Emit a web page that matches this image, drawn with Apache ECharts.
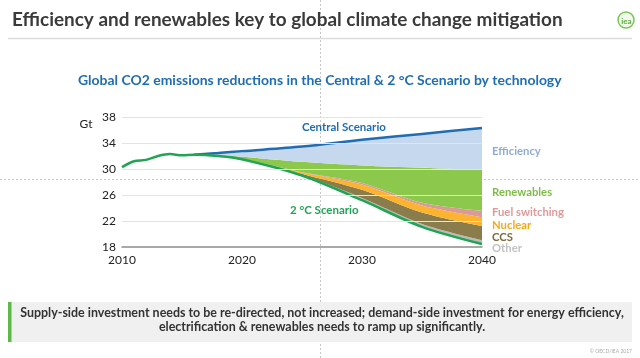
<!DOCTYPE html>
<html><head><meta charset="utf-8">
<script src="https://cdn.jsdelivr.net/npm/echarts@6/dist/echarts.min.js"></script>
<style>html,body{margin:0;padding:0;background:#fff}#c{width:640px;height:358px}</style>
</head><body><div id="c"></div><script>
// ---- data ----
const histYears = [2010, 2011, 2012, 2013, 2014, 2015, 2016];
const histValues = [30.3, 31.2, 31.4, 32.0, 32.3, 32.1, 32.2];
const projYears = [2016, 2018, 2020, 2025, 2030, 2035, 2040];
const centralScenario = [32.2, 32.45, 32.75, 33.45, 34.5, 35.4, 36.3];
const twoDegScenario = [32.2, 32.0, 31.5, 29.0, 25.2, 21.1, 18.45];
const other = [0, 0, 0.02, 0.08, 0.35, 0.45, 0.6];
const ccs = [0, 0.01, 0.03, 0.17, 1.25, 1.75, 2.15];
const nuclear = [0, 0.02, 0.05, 0.2, 0.8, 1.1, 1.4];
const fuelSwitching = [0, 0, 0, 0.05, 0.25, 0.4, 0.95];
const renewables = [0, 0.1, 0.3, 1.6, 2.7, 5.4, 6.3];
const efficiency = [0, 0.32, 0.85, 2.35, 3.95, 5.2, 6.45];
const yTicks = [18, 22, 26, 30, 34, 38];
const xTicks = [2010, 2020, 2030, 2040];
const wedgeNames = ['Other', 'CCS', 'Nuclear', 'Fuel switching', 'Renewables', 'Efficiency'];

// ---- helpers ----
const cv = document.createElement('canvas').getContext('2d');
function fit(txt, weight, family, w) {
  cv.font = weight + ' 100px ' + family;
  return 100 * w / cv.measureText(txt).width;
}
const T = y => Date.UTC(y, 0, 1);
const pairs = (xs, ys) => xs.map((x, i) => [T(x), ys[i]]);

const wedgeData = [other, ccs, nuclear, fuelSwitching, renewables, efficiency];
const wedgeColors = ['#b9bcb8', '#8b7c4c', '#fbb330', '#d99a98', '#8cc84c', '#c6d8ee'];
const labelColors = ['#c2c2c2', '#7b6a3c', '#f5a81c', '#de9a9a', '#7fbd48', '#90acd6'];
const labelY = [248.5, 237.5, 225, 212.5, 192, 151];

const F = '"Lato", "Open Sans", sans-serif';
const titleTxt = 'Efficiency and renewables key to global climate change mitigation';
const subTxt = 'Global CO2 emissions reductions in the Central & 2 °C Scenario by technology';
const line1 = 'Supply-side investment needs to be re-directed, not increased; demand-side investment for energy efficiency,';
const line2 = 'electrification & renewables needs to ramp up significantly.';
const titleSize = fit(titleTxt, 700, F, 551);
const subSize = fit(subTxt, 700, F, 484);
const boxSize = fit(line1, 700, F, 604);
const rightSize = fit('Fuel switching', 700, F, 72);
const cenSize = fit('Central Scenario', 700, F, 84);
const SM = 0.3;

const series = [];
series.push({
  type: 'line', stack: 'w', data: pairs(projYears, twoDegScenario), symbol: 'none',
  lineStyle: { width: 0, opacity: 0 }, smooth: SM, silent: true,
  markLine: {
    silent: true, symbol: 'none', label: { show: false },
    lineStyle: { color: '#e4e4e4', width: 1, type: 'solid' },
    data: yTicks.slice(1).map(v => ({ yAxis: v }))
  }, z: 1
});
wedgeData.forEach((d, i) => {
  series.push({
    name: wedgeNames[i], type: 'line', stack: 'w', data: pairs(projYears, d), symbol: 'none',
    smooth: SM, lineStyle: { width: 0 },
    areaStyle: { color: wedgeColors[i], opacity: 1 }, z: 2
  });
});
series.push({
  name: 'Central Scenario', type: 'line', data: pairs(projYears, centralScenario), symbol: 'none',
  smooth: SM, lineStyle: { color: '#1f6db4', width: 2.5 }, z: 3
});
series.push({
  name: '2 °C Scenario', type: 'line',
  data: pairs(histYears, histValues).concat(pairs(projYears.slice(1), twoDegScenario.slice(1))),
  symbol: 'none', smooth: SM, lineStyle: { color: '#22a455', width: 2.5 }, z: 4
});

const graphic = [
  { type: 'line', shape: { x1: 320.5, y1: 0, x2: 320.5, y2: 358 }, style: { stroke: '#c8c8c8', lineWidth: 1, lineDash: [2, 2] }, z: -1 },
  { type: 'line', shape: { x1: 0, y1: 179.5, x2: 640, y2: 179.5 }, style: { stroke: '#c8c8c8', lineWidth: 1, lineDash: [2, 2] }, z: -1 },
  { type: 'text', style: { text: titleTxt, x: 12, y: 20, font: `700 ${titleSize}px ${F}`, fill: '#3a3a3a', textVerticalAlign: 'middle' } },
  { type: 'line', shape: { x1: 8, y1: 38.5, x2: 632, y2: 38.5 }, style: { stroke: '#dcdcdc', lineWidth: 1.5 } },
  { type: 'circle', shape: { cx: 626, cy: 20, r: 8 }, style: { fill: '#f2f8ee', stroke: '#7cc45a', lineWidth: 1.5 } },
  { type: 'text', style: { text: 'iea', x: 626.5, y: 21, font: `700 8px ${F}`, fill: '#5aae3a', textAlign: 'center', textVerticalAlign: 'middle' } },
  { type: 'text', style: { text: subTxt, x: 78, y: 80, font: `700 ${subSize}px ${F}`, fill: '#1f6db4', textVerticalAlign: 'middle' } },
  { type: 'text', style: { text: 'Gt', x: 86, y: 124, font: `400 12px ${F}`, fill: '#222', textAlign: 'center', textVerticalAlign: 'middle' } },
  { type: 'text', style: { text: 'Central Scenario', x: 302, y: 127.5, font: `700 ${cenSize}px ${F}`, fill: '#1f6db4', textVerticalAlign: 'middle' }, z: 10 },
  { type: 'text', style: { text: '2 °C Scenario', x: 290, y: 210, font: `700 ${cenSize}px ${F}`, fill: '#22a455', textVerticalAlign: 'middle' }, z: 10 },
  { type: 'rect', shape: { x: 8, y: 302, width: 624, height: 40 }, style: { fill: '#f0f0f0' } },
  { type: 'rect', shape: { x: 8, y: 302, width: 3.5, height: 40 }, style: { fill: '#5cb848' } },
  { type: 'text', style: { text: line1, x: 322, y: 313, font: `700 ${boxSize}px ${F}`, fill: '#333', textAlign: 'center', textVerticalAlign: 'middle' } },
  { type: 'text', style: { text: line2, x: 322, y: 327, font: `700 ${boxSize}px ${F}`, fill: '#333', textAlign: 'center', textVerticalAlign: 'middle' } },
  { type: 'text', style: { text: '© OECD/IEA 2017', x: 632, y: 351, font: `400 5px ${F}`, fill: '#aaa', textAlign: 'right', textVerticalAlign: 'middle' } }
];
wedgeNames.forEach((n, i) => {
  graphic.push({ type: 'text', style: { text: n, x: 492, y: labelY[i], font: `700 ${rightSize}px ${F}`, fill: labelColors[i], textVerticalAlign: 'middle' } });
});

const chart = echarts.init(document.getElementById('c'), null, { renderer: 'canvas' });
chart.setOption({
  animation: false,
  backgroundColor: '#fff',
  grid: { left: 122, right: 158, top: 117, bottom: 111, containLabel: false },
  xAxis: [{
    type: 'time', min: T(2010), max: T(2040), show: false
  }, {
    type: 'value', min: 2010, max: 2040, interval: 10, position: 'bottom',
    axisLine: { show: true, onZero: false, lineStyle: { color: '#8c8c8c', width: 1.5 } },
    axisTick: { show: false }, splitLine: { show: false },
    axisLabel: { formatter: v => String(v), color: '#222', fontSize: 12, fontFamily: F, margin: 7 }
  }],
  yAxis: {
    type: 'value', min: 18, max: 38,
    axisLine: { show: false }, axisTick: { show: false }, splitLine: { show: false },
    axisLabel: { color: '#222', fontSize: 12, fontFamily: F, margin: 6, customValues: yTicks }
  },
  series: series,
  graphic: graphic
});
</script></body></html>
